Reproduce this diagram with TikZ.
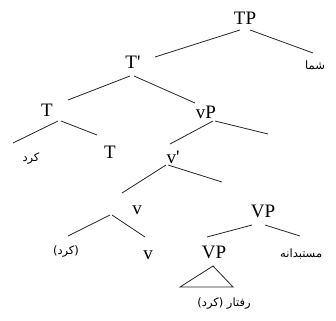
\documentclass[tikz,border=0pt]{standalone}
\usepackage{fontspec}
\setmainfont{Liberation Serif}
\newfontfamily\plainserif{Liberation Serif}
\newfontfamily\arabicfont[Script=Arabic]{DejaVu Sans}
\TeXXeTstate=1
\begin{document}
\begin{tikzpicture}[x=1pt,y=-1pt,
  lab/.style={inner sep=0pt,font=\plainserif\fontsize{19}{19}\selectfont},
  fa/.style={inner sep=0pt,font=\arabicfont\fontsize{11.5}{13}\selectfont},
  edge/.style={line width=0.8pt,black!85}]
\useasboundingbox (0,0) rectangle (336,320);
% labels
\node[lab] (TP) at (245,18) {TP};
\node[lab] (Tbar) at (133,62) {T'};
\node[fa] (shoma) at (315,65) {\beginR شما\endR};
\node[lab] (T) at (47,110) {T};
\node[lab] (vP) at (206,112) {vP};
\node[fa] (kard) at (31,159) {\beginR کرد\endR};
\node[lab] (T2) at (110,152) {T};
\node[lab] (vbar) at (173,157) {v'};
\node[lab] (v) at (137,210) {v};
\node[lab] (VP) at (263,211) {VP};
\node[fa] (kard2) at (66,252) {\beginR (کرد)\endR};
\node[lab] (v2) at (148,255) {v};
\node[lab] (VP2) at (214,252) {VP};
\node[fa,anchor=west] (most) at (280,254) {\beginR مستبدانه\endR};
\node[fa] (raftar) at (224,304) {\beginR رفتار (کرد)\endR};
% line end points
\coordinate (TPl) at (240,30);   \coordinate (TPr) at (250,30);
\coordinate (TPle) at (155,57);  \coordinate (TPre) at (313,53);
\coordinate (Tbl) at (130,76);   \coordinate (Tbr) at (134,76);
\coordinate (Tble) at (68,100);  \coordinate (Tbre) at (195,103);
\coordinate (Tl) at (58,121);    \coordinate (Tr) at (61,121);
\coordinate (Tle) at (13,143);   \coordinate (Tre) at (97,135);
\coordinate (vPl) at (213,121);  \coordinate (vPr) at (215,121);
\coordinate (vPle) at (170,144); \coordinate (vPre) at (268,134);
\coordinate (vbl) at (166,165);  \coordinate (vbr) at (168,165);
\coordinate (vble) at (122,193); \coordinate (vbre) at (222,182);
\coordinate (vl) at (110,215);   \coordinate (vr) at (112,215);
\coordinate (vle) at (68,236);   \coordinate (vre) at (145,237);
\coordinate (VPl) at (252,225);  \coordinate (VPr) at (265,225);
\coordinate (VPle) at (207,237); \coordinate (VPre) at (300,236);
\coordinate (tri) at (213,266);
\coordinate (triL) at (180,287);
\coordinate (triR) at (233,287);
% connectors
\draw[edge] (TPl) -- (TPle);
\draw[edge] (TPr) -- (TPre);
\draw[edge] (Tbl) -- (Tble);
\draw[edge] (Tbr) -- (Tbre);
\draw[edge] (Tl) -- (Tle);
\draw[edge] (Tr) -- (Tre);
\draw[edge] (vPl) -- (vPle);
\draw[edge] (vPr) -- (vPre);
\draw[edge] (vbl) -- (vble);
\draw[edge] (vbr) -- (vbre);
\draw[edge] (vl) -- (vle);
\draw[edge] (vr) -- (vre);
\draw[edge] (VPl) -- (VPle);
\draw[edge] (VPr) -- (VPre);
\draw[edge] (tri) -- (triL) -- (triR) -- cycle;
\end{tikzpicture}
\end{document}
